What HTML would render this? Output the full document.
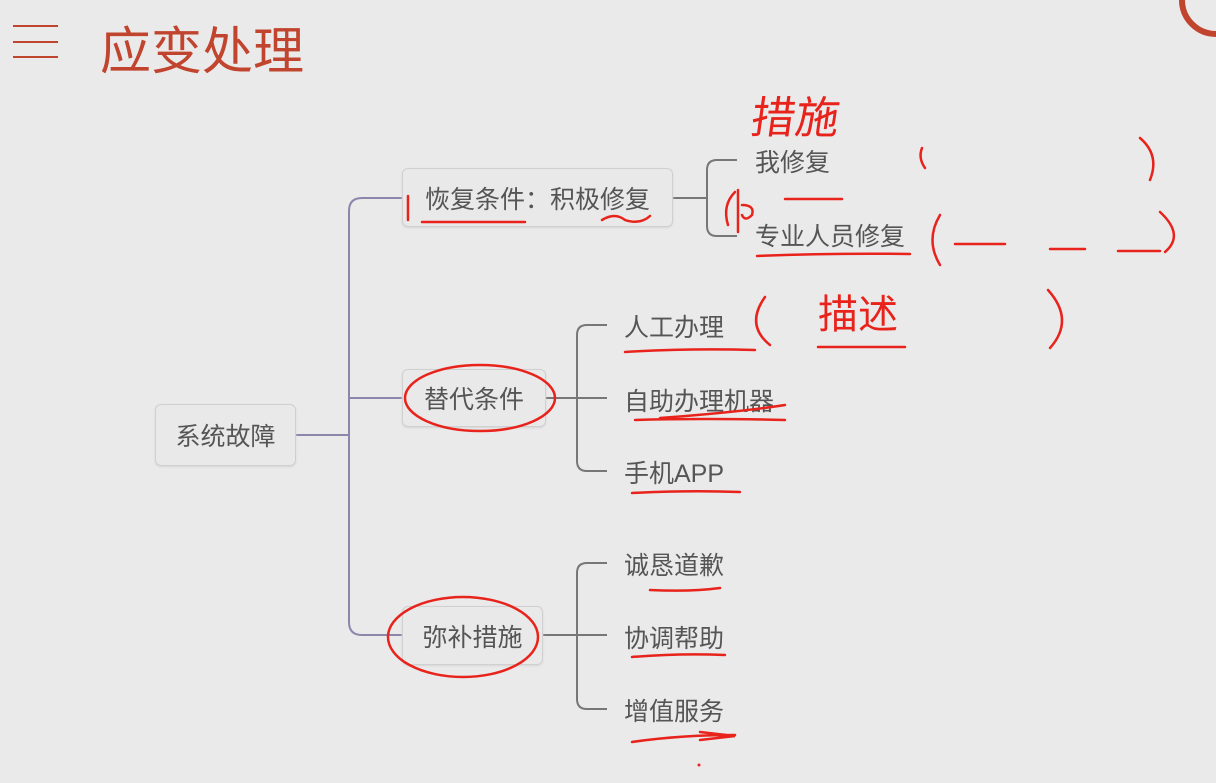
<!DOCTYPE html>
<html><head><meta charset="utf-8"><style>
body{margin:0;width:1216px;height:783px;background:#ebeaeb;overflow:hidden;font-family:"Liberation Sans","Noto Sans CJK SC",sans-serif;position:relative}
.b{position:absolute;border:1px solid #d0d0d0;border-radius:6px;background:#eae9ea;box-shadow:0 1px 2px #d6d6d6;color:#555;font-size:25px;display:flex;align-items:center;justify-content:center}
.t{position:absolute;color:#555;font-size:25px;white-space:nowrap}
svg.top{position:absolute;left:0;top:0;z-index:5}
</style></head><body>
<div style="position:absolute;left:13px;top:25px;width:45px;height:2px;background:#c0442e"></div>
<div style="position:absolute;left:13px;top:41px;width:45px;height:2px;background:#c0442e"></div>
<div style="position:absolute;left:13px;top:56px;width:45px;height:2px;background:#c0442e"></div>
<div style="position:absolute;left:100px;top:10px;font-size:51px;color:#c0442e">应变处理</div>
<svg width="1216" height="783" style="position:absolute;left:0;top:0">
<g fill="none" stroke="#8c86aa" stroke-width="2">
<path d="M295 435 H349"/>
<path d="M402 198 H362 Q349 198 349 211 V622 Q349 635 362 635 H402"/>
<path d="M349 398 H402"/>
</g>
<g fill="none" stroke="#777" stroke-width="2">
<path d="M672 198 H707"/>
<path d="M737 160 H717 Q707 160 707 170 V226 Q707 236 717 236 H737"/>
<path d="M545 398 H607"/>
<path d="M607 325 H587 Q577 325 577 335 V461 Q577 471 587 471 H607"/>
<path d="M542 635 H607"/>
<path d="M607 563 H587 Q577 563 577 573 V699 Q577 709 587 709 H607"/>
</g>
</svg>
<div class="b" style="left:155px;top:404px;width:139px;height:60px">系统故障</div>
<div class="b" style="left:402px;top:168px;width:269px;height:57px">恢复条件：积极修复</div>
<div class="b" style="left:402px;top:369px;width:142px;height:56px">替代条件</div>
<div class="b" style="left:402px;top:606px;width:139px;height:57px">弥补措施</div>
<div class="t" style="left:755px;top:143px">我修复</div>
<div class="t" style="left:755px;top:217px">专业人员修复</div>
<div class="t" style="left:624px;top:308px">人工办理</div>
<div class="t" style="left:624px;top:382px">自助办理机器</div>
<div class="t" style="left:624px;top:454px">手机APP</div>
<div class="t" style="left:624px;top:546px">诚恳道歉</div>
<div class="t" style="left:624px;top:619px">协调帮助</div>
<div class="t" style="left:624px;top:692px">增值服务</div>
<svg class="top" width="1216" height="783">
<g fill="none" stroke="#e8231b" stroke-width="2.5" stroke-linecap="round">
<path d="M422 222 Q470 222 525 222"/><path d="M602 220 Q615 212 625 220 Q640 225 650 216"/>
<path d="M408 196 V220"/>
<path d="M757 256 Q830 253 910 254"/><path d="M785 199 H842"/>
<path d="M922 148 Q918 158 925 168"/><path d="M1140 138 Q1160 155 1150 180"/>
<path d="M940 215 Q925 240 940 265"/><path d="M955 244 H1005"/><path d="M1050 249 H1085"/><path d="M1118 251 H1160"/><path d="M1160 212 Q1185 235 1165 252"/>
<path d="M625 352 Q690 348 755 350"/><path d="M765 297 Q745 325 770 345"/><path d="M1048 290 Q1075 320 1050 348"/><path d="M818 347 H905"/>
<path d="M635 420 Q700 418 785 420"/><path d="M660 418 Q740 412 785 405"/>
<path d="M632 493 Q690 490 740 492"/>
<path d="M650 590 Q690 592 720 588"/>
<path d="M632 657 Q680 653 725 655"/>
<path d="M632 742 Q680 735 735 735 M700 732 L735 736 L700 740"/>
<ellipse cx="480" cy="398" rx="75" ry="33"/>
<ellipse cx="463" cy="637" rx="75" ry="40"/>
<path d="M735 192 Q722 205 728 225 M738 190 V232 M742 205 Q755 205 752 215 Q745 222 742 215"/>
</g>
<circle cx="699" cy="765" r="1.5" fill="#e8231b"/>
<circle cx="1216" cy="0" r="34" fill="none" stroke="#c0442e" stroke-width="6"/>
</svg>
<div style="position:absolute;z-index:6;left:752px;top:82px;font-size:44px;color:#e8231b;font-family:'WenQuanYi Zen Hei','Noto Sans CJK SC',sans-serif;transform:skewX(-8deg)">措施</div>
<div style="position:absolute;z-index:6;left:818px;top:282px;font-size:40px;color:#e8231b;font-family:'WenQuanYi Zen Hei','Noto Sans CJK SC',sans-serif">描述</div>
</body></html>
